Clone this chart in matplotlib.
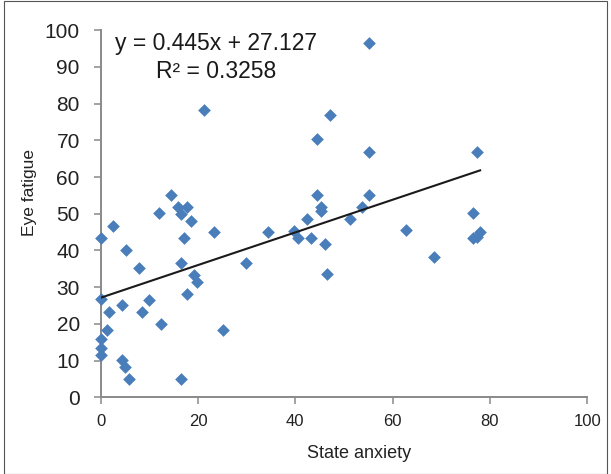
import numpy as np
import matplotlib
matplotlib.use("Agg")
import matplotlib.pyplot as plt
from matplotlib.patches import Rectangle

plt.rcParams['font.family'] = ['Liberation Sans', 'DejaVu Sans']

# datos
state_anxiety = [0, 2.5, 5.2, 7.8, 11.9, 14.4, 15.8, 16.5, 17.8, 18.5,
                 17.2, 23.2, 16.5, 19.2, 19.9, 0, 1.8, 4.4, 9.9, 8.4,
                 17.8, 12.5, 1.3, 25.1, 0, 0, 0, 4.4, 5.1, 5.8,
                 16.5, 21.3, 47.2, 44.5, 55.2, 44.5, 55.2, 45.2, 45.2, 53.7,
                 42.5, 51.3, 34.5, 39.8, 40.5, 43.2, 46.1, 29.8, 46.5, 55.2,
                 77.3, 76.5, 62.8, 68.5, 78.0, 76.6, 77.3]
eye_fatigue = [43.3, 46.7, 40.1, 35.1, 50.1, 55.1, 51.9, 49.9, 51.8, 48.0,
               43.3, 45.1, 36.7, 33.3, 31.5, 26.7, 23.2, 25.1, 26.5, 23.2,
               28.1, 20.0, 18.3, 18.3, 15.9, 13.3, 11.5, 10.3, 8.3, 5.0,
               5.0, 78.3, 76.8, 70.3, 66.8, 55.1, 55.1, 51.9, 50.8, 51.8,
               48.5, 48.5, 45.1, 45.3, 43.5, 43.5, 41.7, 36.7, 33.5, 96.6,
               66.8, 50.1, 45.6, 38.3, 45.0, 43.3, 43.8]

pendiente = 0.445
intercepto = 27.127
r2 = 0.3258

x_ticks = [0, 20, 40, 60, 80, 100]
y_ticks = [0, 10, 20, 30, 40, 50, 60, 70, 80, 90, 100]

fig = plt.figure(figsize=(6.11, 4.74), dpi=100)
ax = fig.add_axes([0.1647, 0.1618, 0.7963, 0.7743])

gris = '#898989'
azul = '#4a7ebb'

ax.scatter(state_anxiety, eye_fatigue, marker='D', s=42, color=azul,
           linewidths=0, zorder=3, clip_on=False)

# linea de tendencia
xl = np.array([min(state_anxiety), max(state_anxiety)])
ax.plot(xl, pendiente * xl + intercepto, color='#1a1a1a', lw=1.5, zorder=4)

ax.text(23.7, 96.3, f'y = {pendiente}x + {intercepto}', ha='center', va='center',
        fontsize=16.5, color='#1a1a1a')
ax.text(23.7, 88.9, f'R² = {r2}', ha='center', va='center',
        fontsize=16.5, color='#1a1a1a')

ax.set_xlim(0, 100)
ax.set_ylim(0, 100)
ax.set_xticks(x_ticks)
ax.set_yticks(y_ticks)
ax.tick_params(axis='x', labelsize=12, length=5, width=1.1, color=gris, pad=7, labelcolor='#222222')
ax.tick_params(axis='y', labelsize=15, length=5, width=1.1, color=gris, pad=10, labelcolor='#222222')

for s in ['top', 'right']:
    ax.spines[s].set_visible(False)
for s in ['left', 'bottom']:
    ax.spines[s].set_color(gris)
    ax.spines[s].set_linewidth(1.4)

ax.set_xlabel('State anxiety', fontsize=13, color='#222222')
ax.set_ylabel('Eye fatigue', fontsize=12.5, color='#222222')
ax.xaxis.set_label_coords(0.532, -0.130)
ax.yaxis.set_label_coords(-0.130, 0.559)

# marco de la figura
fig.patches.append(Rectangle((0.006, 0.0), 0.988, 0.998, transform=fig.transFigure,
                             fill=False, edgecolor='#555555', lw=0.8))

fig.savefig('out.png', dpi=100)
